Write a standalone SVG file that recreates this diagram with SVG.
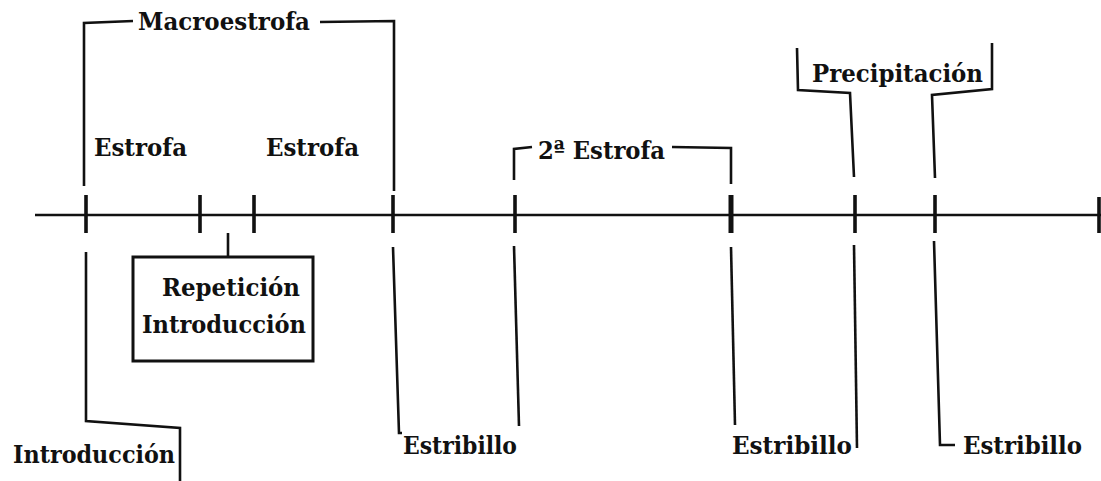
<svg xmlns="http://www.w3.org/2000/svg" width="1101" height="481" viewBox="0 0 1101 481">
<style>
.ln{fill:none;stroke:#111;stroke-width:2.6;stroke-linejoin:miter}
.tk{stroke:#111;stroke-width:3.6}
.t{font-family:"DejaVu Serif","Liberation Serif",serif;font-weight:bold;font-size:25px;fill:#111}
</style>
<rect width="1101" height="481" fill="#fff"/>
<g id="axis">
<line class="ln" x1="35" y1="215" x2="1101" y2="215"/>
<line class="tk" x1="86" y1="195" x2="86" y2="233"/>
<line class="tk" x1="200" y1="195" x2="200" y2="233"/>
<line class="tk" x1="254" y1="195" x2="254" y2="233"/>
<line class="tk" x1="393" y1="195" x2="393" y2="233"/>
<line class="tk" x1="515" y1="195" x2="515" y2="233"/>
<line class="tk" x1="731" y1="195" x2="731" y2="233" style="stroke-width:5"/>
<line class="tk" x1="855" y1="195" x2="855" y2="233"/>
<line class="tk" x1="935" y1="195" x2="935" y2="233"/>
<line class="tk" x1="1099" y1="197" x2="1099" y2="233"/>
</g>
<g id="connectors">
<polyline class="ln" points="84,186 84,23 133,21"/>
<polyline class="ln" points="320,22 394,21 394,191"/>
<polyline class="ln" points="514,180 514,149 532,147"/>
<polyline class="ln" points="672,147 731,148 731,184"/>
<polyline class="ln" points="797,48 798,90 850,93 854,177"/>
<polyline class="ln" points="992,43 992,89 932,95 935,178"/>
<line class="ln" x1="228" y1="233" x2="228" y2="257"/>
<polyline class="ln" points="86,252 86,421 180,428 180,481"/>
<polyline class="ln" points="393,247 399,433 402,433"/>
<line class="ln" x1="514" y1="246" x2="519" y2="426"/>
<line class="ln" x1="731" y1="247" x2="735" y2="425"/>
<line class="ln" x1="854" y1="245" x2="857" y2="448"/>
<polyline class="ln" points="934,241 940,445 955,445"/>
</g>
<g id="macroestrofa"><text class="t" x="138" y="30" textLength="172" lengthAdjust="spacingAndGlyphs">Macroestrofa</text></g>
<g id="estrofa1"><text class="t" x="94" y="156" textLength="93" lengthAdjust="spacingAndGlyphs">Estrofa</text></g>
<g id="estrofa2"><text class="t" x="266" y="156" textLength="93" lengthAdjust="spacingAndGlyphs">Estrofa</text></g>
<g id="estrofa3"><text class="t" x="538" y="159" textLength="127" lengthAdjust="spacingAndGlyphs">2ª Estrofa</text></g>
<g id="precipitacion"><text class="t" x="812" y="82" textLength="171" lengthAdjust="spacingAndGlyphs">Precipitación</text></g>
<g id="repeticion">
<rect class="ln" x="133" y="257" width="180" height="104" style="stroke-width:3"/>
<text class="t" x="162" y="296" textLength="138" lengthAdjust="spacingAndGlyphs">Repetición</text>
<text class="t" x="142" y="333" textLength="164" lengthAdjust="spacingAndGlyphs">Introducción</text>
</g>
<g id="introduccion"><text class="t" x="13" y="463" textLength="162" lengthAdjust="spacingAndGlyphs">Introducción</text></g>
<g id="estribillo1"><text class="t" x="403" y="454" textLength="114" lengthAdjust="spacingAndGlyphs">Estribillo</text></g>
<g id="estribillo2"><text class="t" x="732" y="454" textLength="120" lengthAdjust="spacingAndGlyphs">Estribillo</text></g>
<g id="estribillo3"><text class="t" x="963" y="454" textLength="119" lengthAdjust="spacingAndGlyphs">Estribillo</text></g>
</svg>
